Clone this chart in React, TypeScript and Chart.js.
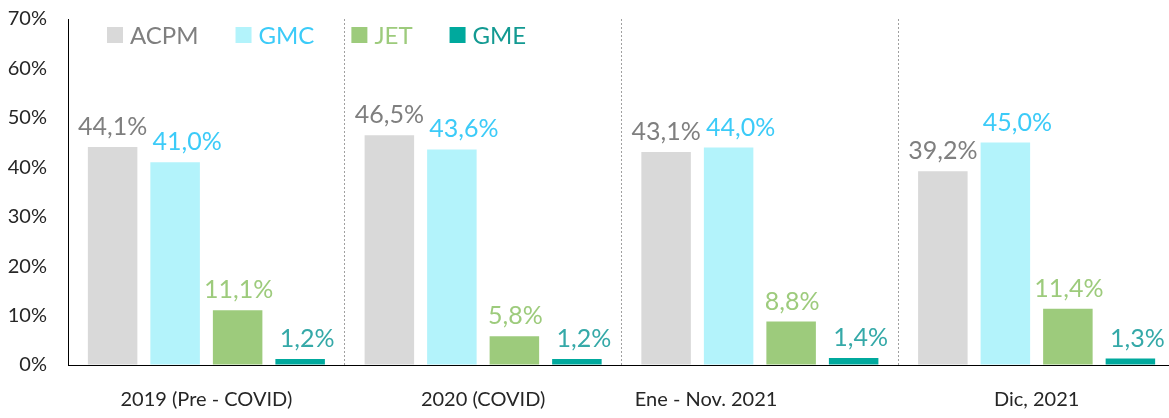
import { useEffect, useRef } from 'react';
import { Chart, registerables } from 'chart.js';

Chart.register(...registerables);

const categories = ['2019 (Pre - COVID)', '2020 (COVID)', 'Ene - Nov. 2021', 'Dic, 2021'];
const seriesNames = ['ACPM', 'GMC', 'JET', 'GME'];
const acpmValues = [44.1, 46.5, 43.1, 39.2];
const gmcValues = [41.0, 43.6, 44.0, 45.0];
const jetValues = [11.1, 5.8, 8.8, 11.4];
const gmeValues = [1.2, 1.2, 1.4, 1.3];
const yTickValues = [0, 10, 20, 30, 40, 50, 60, 70];

const FONT = 'Lato, "DejaVu Sans Condensed", sans-serif';
const barColors = ['#d9d9d9', '#b3f3fb', '#9dcb7c', '#00a99d'];
const legendTextColors = ['#7f7f7f', '#3ccbf8', '#9dcb7c', '#139a92'];
const valueLabelColors = ['#7f7f7f', '#3ccbf8', '#9dcb7c', '#35a9a8'];
const valueLabelShift = [0, 12, 1, 7];

const valueLabels = {
  id: 'valueLabels',
  afterDatasetsDraw(chart: any) {
    const { ctx } = chart;
    ctx.save();
    ctx.font = `25px ${FONT}`;
    ctx.textAlign = 'center';
    ctx.textBaseline = 'alphabetic';
    chart.data.datasets.forEach((ds: any, di: number) => {
      const meta = chart.getDatasetMeta(di);
      meta.data.forEach((el: any, i: number) => {
        const v = ds.data[i] as number;
        ctx.fillStyle = valueLabelColors[di];
        ctx.fillText(v.toFixed(1).replace('.', ',') + '%', el.x + valueLabelShift[di], el.y - 12);
      });
    });
    ctx.restore();
  },
};

const insideLegend = {
  id: 'insideLegend',
  afterDraw(chart: any) {
    const { ctx, chartArea } = chart;
    ctx.save();
    ctx.font = `24px ${FONT}`;
    ctx.textAlign = 'left';
    ctx.textBaseline = 'alphabetic';
    let x = chartArea.left + 39;
    const boxTop = 27;
    const baseline = 44;
    chart.data.datasets.forEach((ds: any, di: number) => {
      ctx.fillStyle = barColors[di];
      ctx.fillRect(x, boxTop, 16, 16);
      ctx.fillStyle = legendTextColors[di];
      const tx = x + 23;
      ctx.fillText(ds.label, tx, baseline);
      x = tx + ctx.measureText(ds.label).width + 37;
    });
    ctx.restore();
  },
};

export default function App() {
  const ref = useRef<HTMLCanvasElement>(null);

  useEffect(() => {
    if (!ref.current) return;
    const seriesValues = [acpmValues, gmcValues, jetValues, gmeValues];
    const chart = new Chart(ref.current, {
      type: 'bar',
      data: {
        labels: categories,
        datasets: seriesNames.map((name, i) => ({
          label: name,
          data: seriesValues[i],
          backgroundColor: barColors[i],
          borderWidth: 0,
          categoryPercentage: 0.9035,
          barPercentage: 0.792,
        })),
      },
      options: {
        animation: false,
        responsive: false,
        maintainAspectRatio: false,
        layout: { padding: { top: 19, right: 1, left: 0, bottom: 0 } },
        plugins: {
          legend: { display: false },
          tooltip: { enabled: false },
        },
        scales: {
          x: {
            type: 'category',
            offset: true,
            grid: {
              offset: true,
              drawTicks: false,
              color: (c: any) => (c.index === 0 ? 'rgba(0,0,0,0)' : '#a0a0a0'),
              lineWidth: 1,
            },
            border: { display: true, color: '#000000', width: 1, dash: [2, 2] },
            ticks: {
              padding: 23,
              color: '#262626',
              font: { family: FONT, size: 20 },
              maxRotation: 0,
              autoSkip: false,
              callback: (_v: any, i: number) =>
                i === 2 ? categories[i] + '\u00A0'.repeat(21) : categories[i],
            },
            afterFit: (s: any) => {
              s.height = 53;
              s.paddingLeft = 0;
              s.paddingRight = 0;
            },
          },
          y: {
            min: 0,
            max: 70,
            afterBuildTicks: (s: any) => {
              s.ticks = yTickValues.map((v) => ({ value: v }));
            },
            ticks: {
              padding: 21,
              color: '#262626',
              font: { family: FONT, size: 20 },
              callback: (v: any) => `${v}%`,
            },
            grid: { drawOnChartArea: false, drawTicks: false },
            border: { display: true, color: '#000000', width: 1 },
            afterFit: (s: any) => {
              s.width = 68;
              s.paddingTop = 0;
              s.paddingBottom = 0;
            },
          },
        },
      },
      plugins: [valueLabels, insideLegend],
    } as any);
    return () => chart.destroy();
  }, []);

  return (
    <div
      style={{
        position: 'fixed',
        left: 0,
        top: 0,
        width: 1169,
        height: 418,
        overflow: 'hidden',
        background: '#ffffff',
      }}
    >
      <canvas ref={ref} width={1176} height={418} style={{ display: 'block' }} />
    </div>
  );
}
